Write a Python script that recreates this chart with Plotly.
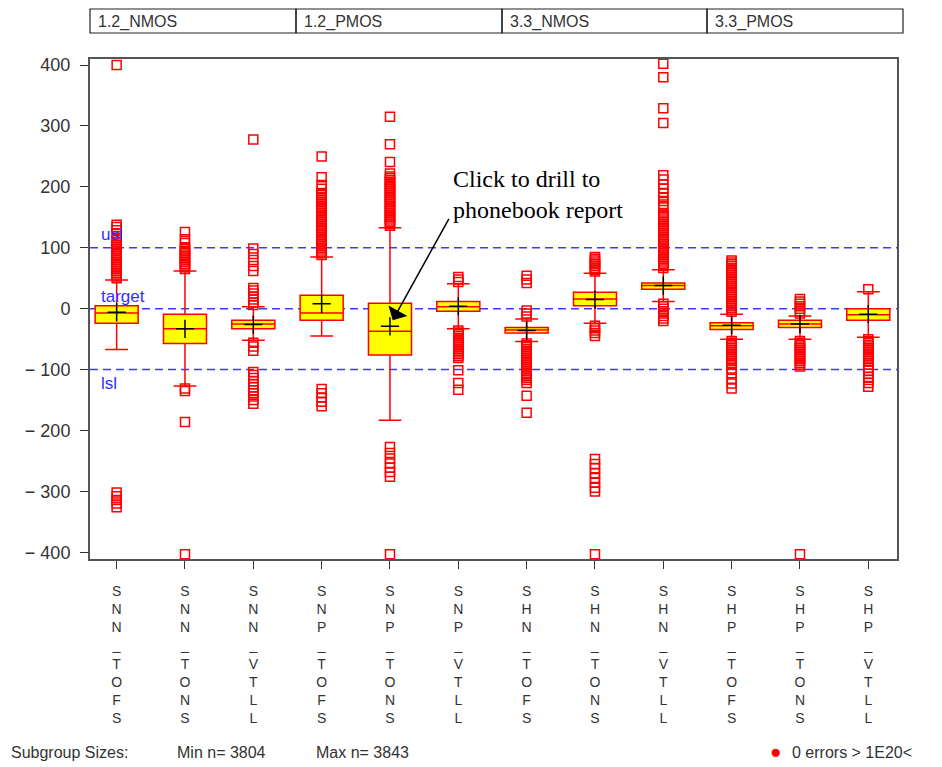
import plotly.graph_objects as go

# ---------------- data ----------------
categories = ["SNN_TOFS", "SNN_TONS", "SNN_VTLL", "SNP_TOFS", "SNP_TONS", "SNP_VTLL",
              "SHN_TOFS", "SHN_TONS", "SHN_VTLL", "SHP_TOFS", "SHP_TONS", "SHP_VTLL"]
groups = ["1.2_NMOS", "1.2_PMOS", "3.3_NMOS", "3.3_PMOS"]

q1 = [-24, -57, -33, -19, -76, -4, -40, 5, 32, -34, -31, -19]
median = [-7, -33, -25, -7, -37, 3, -35, 16, 38, -28, -25, -10]
q3 = [5, -9, -19, 22, 9, 12, -31, 27, 42, -23, -19, 0]
means = [-6, -33, -26, 8, -29, 4, -36, 15, 38, -27, -25, -9]
lower_whisker = [-67, -127, -52, -45, -183, -33, -54, -24, 12, -50, -50, -47]
upper_whisker = [47, 62, 3, 85, 133, 41, -17, 58, 64, -9, -12, 28]

out_snn_tofs = [400, 50, 53, 56, 59, 62, 65, 68, 71, 74, 77, 80, 83, 86, 89, 92, 95, 98, 101,
                104, 107, 110, 113, 116, 119, 124, 129, 134, 138,
                -302, -308, -314, -320, -326]
out_snn_tons = [65, 68, 71, 74, 77, 80, 83, 86, 89, 92, 95, 98, 101, 108, 114, 126,
                -131, -135, -186, -403]
out_snn_vtll = [6, 10, 15, 20, 25, 30, 34, 62, 70, 80, 90, 99, 278,
                -56, -62, -69, -104, -109, -114, -119, -124, -129, -134, -139, -144, -150, -156]
out_snp_tofs = [88, 91, 94, 97, 100, 103, 106, 109, 112, 115, 118, 121, 124, 127, 130, 133, 136,
                139, 142, 145, 148, 151, 154, 157, 160, 163, 166, 169, 172, 175, 178, 181, 184,
                187, 190, 197, 203, 216, 250,
                -132, -139, -146, -153, -160]
out_snp_tons = [136, 139, 142, 145, 148, 151, 154, 157, 160, 163, 166, 169, 172, 175, 178, 181,
                184, 187, 190, 193, 196, 199, 202, 205, 208, 211, 214, 217, 222, 241, 270, 315,
                -227, -237, -246, -254, -261, -268, -276, -403]
out_snp_vtll = [44, 48, 52,
                -36, -39, -42, -45, -48, -51, -54, -57, -60, -63, -66, -69, -72, -75, -78, -81,
                -101, -122, -133]
out_shn_tofs = [-13, -8, -3, 42, 48, 54,
                -57, -60, -63, -66, -69, -72, -75, -78, -81, -84, -87, -90, -93, -96, -99, -102,
                -105, -108, -111, -114, -117, -122, -143, -171]
out_shn_tons = [61, 64, 67, 70, 73, 76, 79, 82, 85,
                -28, -32, -36, -40, -45,
                -247, -255, -262, -270, -278, -286, -294, -300, -403]
out_shn_vtll = [67, 70, 73, 76, 79, 82, 85, 88, 91, 94, 97, 100, 103, 106, 109, 112, 115, 118,
                121, 124, 127, 130, 133, 136, 139, 142, 145, 148, 151, 154, 157,
                166, 171, 177, 183, 190, 197, 204, 212, 219, 305, 329, 380, 402,
                8, 4, 0, -4, -8, -12, -16, -20]
out_shp_tofs = [-5, -2, 1, 4, 7, 10, 13, 16, 19, 22, 25, 28, 31, 34, 37, 40, 43, 46, 49, 52, 55,
                58, 61, 64, 67, 70, 73, 76, 79,
                -53, -56, -59, -62, -65, -68, -71, -74, -77, -80, -83, -86, -89, -92,
                -98, -106, -115, -123, -131]
out_shp_tons = [-8, -4, 0, 4, 8, 12, 16,
                -53, -56, -59, -62, -65, -68, -71, -74, -77, -80, -83, -86, -89, -92, -95, -403]
out_shp_vtll = [32,
                -50, -53, -56, -59, -62, -65, -68, -71, -74, -77, -80, -83, -86,
                -92, -97, -102, -107, -112, -117, -122, -128]

outliers = [out_snn_tofs, out_snn_tons, out_snn_vtll, out_snp_tofs, out_snp_tons, out_snp_vtll,
            out_shn_tofs, out_shn_tons, out_shn_vtll, out_shp_tofs, out_shp_tons, out_shp_vtll]

y_tick_vals = [400, 300, 200, 100, 0, -100, -200, -300, -400]
y_tick_text = ["400", "300", "200", "100", "0", "\u2212 100", "\u2212 200", "\u2212 300", "\u2212 400"]
spec_values = [100, 0, -100]
spec_labels = ["usl", "target", "lsl"]

# ---------------- figure ----------------
FONT = "Liberation Sans, Arial, sans-serif"
xpos = list(range(len(categories)))

fig = go.Figure()

fig.add_trace(go.Box(
    x=xpos, q1=q1, median=median, q3=q3,
    lowerfence=lower_whisker, upperfence=upper_whisker,
    width=0.63, whiskerwidth=0.53,
    fillcolor="#ffff00", line=dict(color="#ff0000", width=1.5),
    boxpoints=False, showlegend=False, hoverinfo="skip",
))

ox, oy = [], []
for i, vals in enumerate(outliers):
    ox += [i] * len(vals)
    oy += vals
fig.add_trace(go.Scatter(
    x=ox, y=oy, mode="markers", showlegend=False, hoverinfo="skip",
    marker=dict(symbol="square-open", size=9, color="#ff0000", line=dict(color="#ff0000", width=1.5)),
))

fig.add_trace(go.Scatter(
    x=xpos, y=means, mode="markers", showlegend=False, hoverinfo="skip",
    marker=dict(symbol="cross-thin-open", size=13, color="black", line=dict(color="black", width=1.5)),
))

shapes = []
for v in spec_values:
    shapes.append(dict(type="line", xref="paper", yref="y", x0=0, x1=1, y0=v, y1=v,
                       layer="below", line=dict(color="#3a3aff", width=1.5, dash="8px,5px")))

# pixel positions of the reference converted to paper units (plot area 90..897 x, 59..559 y)
def px_x(p):
    return (p - 90) / 807.0

def px_y(p):
    return (559 - p) / 500.0

hdr_edges = [90, 296, 502, 707, 903]
annotations = []
for k, g in enumerate(groups):
    shapes.append(dict(type="rect", xref="paper", yref="paper",
                       x0=px_x(hdr_edges[k]), x1=px_x(hdr_edges[k + 1]),
                       y0=px_y(33), y1=px_y(9), line=dict(color="#222", width=1.2)))
    annotations.append(dict(text=g, xref="paper", yref="paper", x=px_x(hdr_edges[k] + 6),
                            y=px_y(21.5), xanchor="left", yanchor="middle", showarrow=False,
                            font=dict(family=FONT, size=16, color="#333")))

spec_label_y = [122, 20.5, -122]
for lab, yy in zip(spec_labels, spec_label_y):
    annotations.append(dict(text=lab, xref="paper", yref="y", x=px_x(99), y=yy,
                            xanchor="left", yanchor="middle", showarrow=False,
                            font=dict(family=FONT, size=17, color="#3030ff")))

# drill annotation
annotations.append(dict(text="Click to drill to<br>phonebook report", xref="x", yref="y",
                        x=4.89, y=238, xanchor="left", yanchor="top", align="left",
                        showarrow=False,
                        font=dict(family="Liberation Serif, Times New Roman, serif", size=24, color="black")))
annotations.append(dict(text="", xref="x", yref="y", x=4.04, y=-19, ax=57, ay=-103,
                        showarrow=True, arrowhead=1, arrowsize=2.4, arrowwidth=1.5,
                        arrowcolor="black"))

# footer
footer = [("Subgroup Sizes:", 9), ("Min n= 3804", 175), ("Max n= 3843", 314), ("0 errors > 1E20<", 790)]
for txt, px in footer:
    annotations.append(dict(text=txt, xref="paper", yref="paper", x=px_x(px), y=px_y(752),
                            xanchor="left", yanchor="middle", showarrow=False,
                            font=dict(family=FONT, size=16, color="#333")))
annotations.append(dict(text="\u25cf", xref="paper", yref="paper", x=px_x(775), y=px_y(751),
                        xanchor="center", yanchor="middle", showarrow=False,
                        font=dict(family=FONT, size=19, color="#ff0000")))

ticktext = ["<br>".join(list(c)) for c in categories]

# The page body adds an 8px offset, so the figure is 8px smaller and margins are shifted.
fig.update_layout(
    width=934, height=759,
    margin=dict(l=82, r=45, t=51, b=208),
    paper_bgcolor="white", plot_bgcolor="white",
    shapes=shapes, annotations=annotations,
    xaxis=dict(range=[-0.39, 11.42], tickmode="array", tickvals=xpos, ticktext=ticktext,
               ticks="outside", ticklen=8, tickcolor="#333", tickwidth=1.2,
               showgrid=False, zeroline=False, showline=True, mirror=True,
               linecolor="#555", linewidth=2, ticklabelstandoff=10,
               tickfont=dict(family=FONT, size=14, color="#333")),
    yaxis=dict(range=[-411, 410], tickmode="array", tickvals=y_tick_vals, ticktext=y_tick_text,
               ticks="outside", ticklen=8, tickcolor="#333", tickwidth=1.2,
               showgrid=False, zeroline=False, showline=True, mirror=True,
               linecolor="#555", linewidth=2, ticklabelstandoff=6,
               tickfont=dict(family=FONT, size=18, color="#333")),
)

fig.write_html("out.html")
